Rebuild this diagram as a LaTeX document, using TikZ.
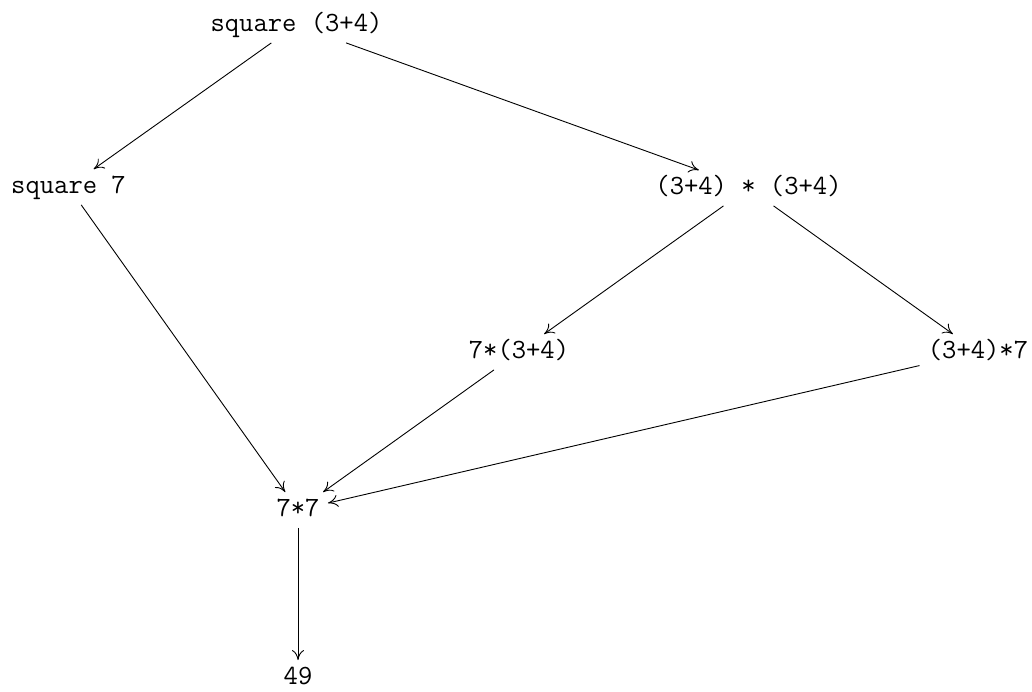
\documentclass[tikz,border=0pt]{standalone}
\usetikzlibrary{arrows.meta}
\begin{document}
\begin{tikzpicture}[x=0.5pt,y=-0.5pt,
  term/.style={inner xsep=4pt,inner ysep=2pt,text height=10pt,text depth=3.5pt,
    font=\fontsize{13.9pt}{16pt}\selectfont\ttfamily},
  edge/.style={-{To[length=5pt,width=6pt]},line width=0.45pt}]
\useasboundingbox (0,0) rectangle (1032,691);
\node[term] (A) at (296.5,25) {square (3+4)};
\node[term] (B) at (68.5,187) {square 7};
\node[term] (C) at (748.5,188) {(3+4) * (3+4)};
\node[term] (D) at (519,352) {7*(3+4)};
\node[term] (E) at (978,352) {(3+4)*7};
\node[term] (F) at (298,510) {7*7};
\node[term] (G) at (298,678) {49};
\draw[edge] (A) -- (B);
\draw[edge] (A) -- (C);
\draw[edge] (B) -- (F);
\draw[edge] (C) -- (D);
\draw[edge] (C) -- (E);
\draw[edge] (D) -- (F);
\draw[edge] (E) -- (F);
\draw[edge] (F) -- (G);
\end{tikzpicture}
\end{document}
